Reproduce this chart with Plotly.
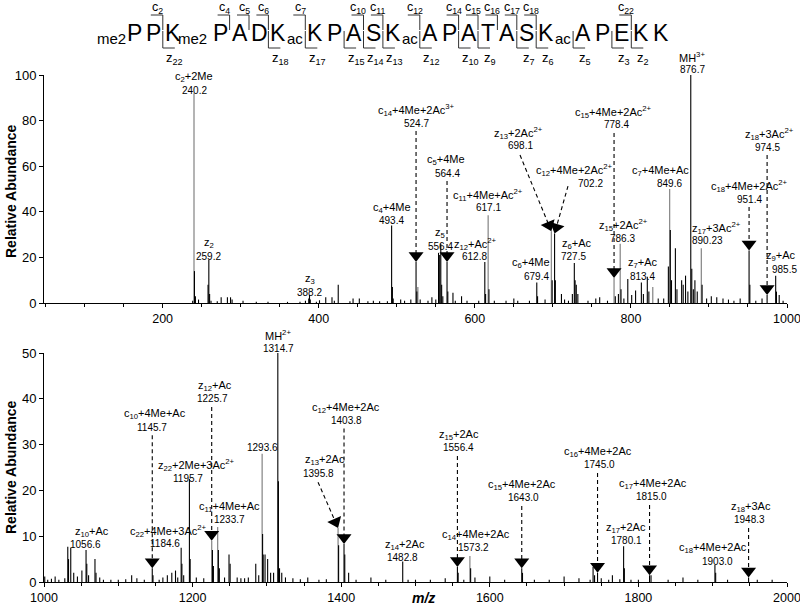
import math
import plotly.graph_objects as go

# ---------------------------------------------------------------- data
# top spectrum (m/z 50-1000), black sticks
TOP_BLACK_MZ = [238.5, 240.8, 242.0, 246.0, 258.2, 259.2, 260.2, 262.0, 270.0, 275.0, 283.0, 287.0,
                289.0, 303.0, 320.0, 335.0, 360.0, 376.0, 383.0, 387.2, 388.2, 389.2, 397.0, 401.0,
                409.0, 417.0, 420.0, 425.0, 440.0, 444.0, 452.0, 463.0, 470.0, 478.0, 488.0, 493.4,
                494.4, 495.4, 505.0, 510.0, 518.0, 524.7, 525.7, 530.0, 540.0, 545.0, 550.0, 553.5,
                555.0, 556.4, 557.5, 559.0, 564.4, 565.4, 572.0, 575.0, 583.0, 590.0, 605.0, 612.8,
                613.8, 618.1, 625.0, 640.0, 650.0, 655.0, 670.0, 679.4, 680.4, 690.0, 699.1, 702.2,
                703.2, 711.0, 715.0, 720.0, 725.0, 727.5, 728.5, 730.0, 732.0, 745.0, 755.0, 760.0,
                770.0, 780.0, 784.0, 787.3, 791.0, 796.0, 801.0, 806.0, 813.4, 816.0, 821.0, 823.0,
                835.0, 842.0, 848.0, 850.5, 852.0, 857.0, 859.0, 865.0, 867.0, 870.0, 873.0, 876.7,
                878.0, 880.0, 882.0, 885.0, 891.2, 897.0, 903.0, 910.0, 918.0, 925.0, 932.0, 940.0,
                951.4, 952.4, 960.0, 968.0, 974.5, 985.5, 986.5, 990.0, 995.0]
TOP_BLACK_INT = [1.0, 14.0, 3.0, 1.5, 8.0, 19.0, 4.0, 1.0, 0.8, 2.5, 2.5, 2.5,
                 1.5, 1.0, 0.5, 0.5, 0.5, 0.5, 1.0, 2.0, 3.5, 1.5, 0.6, 1.2,
                 2.5, 2.5, 1.0, 8.0, 0.8, 2.0, 2.0, 0.8, 1.0, 0.8, 0.8, 34.0,
                 7.0, 2.0, 1.5, 1.0, 1.5, 18.0, 5.0, 1.5, 1.0, 2.5, 1.5, 22.0,
                 21.0, 26.0, 8.0, 3.0, 18.0, 5.0, 4.5, 1.0, 3.0, 1.0, 1.0, 18.0,
                 4.0, 6.0, 1.0, 1.0, 2.0, 1.0, 1.0, 9.0, 3.0, 1.5, 10.0, 30.5,
                 10.0, 4.0, 1.5, 1.0, 4.0, 17.5, 10.0, 8.0, 4.0, 1.0, 2.0, 2.5,
                 1.0, 3.0, 4.0, 6.0, 2.0, 10.5, 3.5, 5.5, 9.0, 4.0, 11.5, 5.0,
                 2.0, 2.0, 16.0, 32.0, 10.0, 24.0, 6.0, 10.0, 8.0, 12.0, 5.0, 100.0,
                 15.0, 6.0, 10.0, 5.0, 8.0, 2.0, 3.0, 2.5, 2.0, 1.5, 1.0, 2.0,
                 23.0, 8.0, 1.0, 2.0, 3.5, 12.0, 5.0, 3.5, 1.0]
# top spectrum, grey sticks
TOP_GRAY_MZ = [240.2, 527.0, 617.1, 698.1, 778.4, 786.3, 828.0, 849.6, 890.23]
TOP_GRAY_INT = [92.0, 7.0, 38.5, 31.5, 11.0, 26.0, 7.0, 50.0, 24.0]

# bottom spectrum (m/z 1000-2000), black sticks
BOT_BLACK_MZ = [1001, 1005, 1010, 1015, 1020, 1028, 1032, 1033, 1036, 1040, 1045, 1051,
                1056.6, 1057.6, 1060, 1068.6, 1070, 1075, 1080, 1090, 1100, 1110, 1118, 1125,
                1135, 1145.7, 1146.7, 1155, 1160, 1166, 1172, 1177, 1180, 1184.6, 1185.6, 1188,
                1195.7, 1196.7, 1205, 1215, 1226.7, 1228, 1234.7, 1236, 1243, 1249, 1250.5, 1260,
                1265, 1270, 1275, 1285, 1289, 1294.2, 1295, 1297.5, 1301, 1305, 1309, 1314.7,
                1315.5, 1317, 1320, 1325, 1335, 1345, 1355, 1370, 1380, 1396.5, 1403.8, 1404.8,
                1410, 1420, 1440, 1460, 1482.8, 1490, 1500, 1520, 1540, 1556.4, 1557.4, 1565,
                1574.2, 1580, 1600, 1620, 1643.0, 1644, 1660, 1680, 1700, 1720, 1735, 1739,
                1741, 1745.0, 1750, 1760, 1765, 1775, 1780.1, 1781.1, 1790, 1800, 1815.0, 1817,
                1840, 1860, 1880, 1903.0, 1904, 1920, 1948.3, 1960, 1980]
BOT_BLACK_INT = [1.2, 0.5, 0.7, 1.2, 0.5, 0.8, 7.7, 5.0, 7.5, 2.0, 1.2, 2.5,
                 7.0, 4.0, 1.5, 5.0, 2.0, 1.0, 0.5, 0.5, 0.5, 0.6, 1.5, 0.8,
                 0.5, 3.0, 1.5, 0.5, 1.0, 1.5, 2.0, 2.5, 1.0, 7.5, 4.0, 1.5,
                 22.5, 5.0, 1.0, 0.8, 7.0, 3.5, 7.0, 3.0, 1.0, 6.0, 4.0, 1.0,
                 0.8, 0.8, 1.0, 4.0, 1.5, 10.5, 6.0, 6.0, 5.0, 2.0, 2.0, 50.0,
                 22.0, 3.0, 2.0, 1.0, 0.8, 0.6, 1.0, 0.5, 0.6, 8.0, 8.3, 6.0,
                 2.0, 0.5, 1.0, 0.5, 4.5, 0.5, 0.5, 0.5, 0.8, 3.3, 2.0, 0.5,
                 3.0, 1.0, 1.2, 0.5, 3.0, 2.0, 0.5, 0.5, 1.2, 0.8, 0.5, 3.3,
                 1.5, 2.0, 0.8, 0.5, 1.5, 0.6, 7.8, 3.0, 0.5, 0.5, 1.5, 1.5,
                 0.5, 1.0, 0.5, 3.7, 2.0, 0.5, 1.0, 0.5, 0.5]
BOT_GRAY_MZ = [1225.7, 1233.7, 1293.6, 1395.8, 1573.2]
BOT_GRAY_INT = [9.0, 12.0, 28.0, 11.8, 5.7]

# peak annotations
TOP_ION_NAMES = ["c<sub>2</sub>+2Me", "z<sub>2</sub>", "z<sub>3</sub>", "c<sub>4</sub>+4Me",
                 "c<sub>14</sub>+4Me+2Ac<sup>3+</sup>", "z<sub>5</sub>", "c<sub>5</sub>+4Me",
                 "z<sub>12</sub>+Ac<sup>2+</sup>", "c<sub>11</sub>+4Me+Ac<sup>2+</sup>", "c<sub>6</sub>+4Me",
                 "z<sub>13</sub>+2Ac<sup>2+</sup>", "c<sub>12</sub>+4Me+2Ac<sup>2+</sup>", "z<sub>6</sub>+Ac",
                 "c<sub>15</sub>+4Me+2Ac<sup>2+</sup>", "z<sub>15</sub>+2Ac<sup>2+</sup>", "z<sub>7</sub>+Ac",
                 "c<sub>7</sub>+4Me+Ac", "MH<sup>3+</sup>", "z<sub>17</sub>+3Ac<sup>2+</sup>",
                 "c<sub>18</sub>+4Me+2Ac<sup>2+</sup>", "z<sub>18</sub>+3Ac<sup>2+</sup>", "z<sub>9</sub>+Ac"]
TOP_ION_MZ = ["240.2", "259.2", "388.2", "493.4", "524.7", "556.4", "564.4", "612.8", "617.1",
              "679.4", "698.1", "702.2", "727.5", "778.4", "786.3", "813.4", "849.6", "876.7",
              "890.23", "951.4", "974.5", "985.5"]
BOT_ION_NAMES = ["z<sub>10</sub>+Ac", "c<sub>10</sub>+4Me+Ac", "c<sub>22</sub>+4Me+3Ac<sup>2+</sup>",
                 "z<sub>22</sub>+2Me+3Ac<sup>2+</sup>", "z<sub>12</sub>+Ac", "c<sub>11</sub>+4Me+Ac", "",
                 "MH<sup>2+</sup>", "z<sub>13</sub>+2Ac", "c<sub>12</sub>+4Me+2Ac", "z<sub>14</sub>+2Ac",
                 "z<sub>15</sub>+2Ac", "c<sub>14</sub>+4Me+2Ac", "c<sub>15</sub>+4Me+2Ac",
                 "c<sub>16</sub>+4Me+2Ac", "z<sub>17</sub>+2Ac", "c<sub>17</sub>+4Me+2Ac",
                 "c<sub>18</sub>+4Me+2Ac", "z<sub>18</sub>+3Ac"]
BOT_ION_MZ = ["1056.6", "1145.7", "1184.6", "1195.7", "1225.7", "1233.7", "1293.6", "1314.7",
              "1395.8", "1403.8", "1482.8", "1556.4", "1573.2", "1643.0", "1745.0", "1780.1",
              "1815.0", "1903.0", "1948.3"]

# peptide sequence header
RESIDUES = ["P", "P", "K", "P", "A", "D", "K", "K", "P", "A", "S", "K",
            "A", "P", "A", "T", "A", "S", "K", "A", "P", "E", "K", "K"]
N_TERM_MOD = "me2"
SIDE_MODS = {2: "me2", 6: "ac", 11: "ac", 18: "ac"}
C_IONS = [2, 4, 5, 6, 7, 10, 11, 12, 14, 15, 16, 17, 18, 22]
Z_IONS = [22, 18, 17, 15, 14, 13, 12, 10, 9, 7, 6, 5, 3, 2]

# ---------------------------------------------------------------- layout (placement only)
W, H = 800, 607
ML, MR, MT, MB = 44, 13, 75, 25
PW, PH = W - ML - MR, H - MT - MB
TOP_XR, TOP_YR = [48, 1000], [0, 100]
BOT_XR, BOT_YR = [1000, 2000], [0, 50]
TOP_DOM = [(H - MB - 303) / PH, 1.0]
BOT_DOM = [0.0, (H - MB - 353) / PH]
FONT = "Liberation Sans, Arial, Helvetica, sans-serif"

# label placement in data units: (name x, value x, name y)
TOP_PLACE = [(240.2, 240.2, 99.1), (259.2, 259.2, 26.3), (388.2, 388.2, 10.5), (493.4, 493.4, 41.7),
             (524.7, 524.7, 84.6), (555.8, 555.6, 30.7), (562.6, 564.4, 62.7), (601.5, 599, 25.9),
             (617.1, 617.1, 47.4), (672, 679.4, 17.5), (656.6, 658, 74.6), (727.6, 748, 58.3),
             (731, 727, 25.9), (778, 781, 83.8), (791, 789, 34.2), (815, 815, 17.5),
             (838.4, 849.6, 57.9), (878, 879, 107.9), (910, 898, 32.9), (952, 951.4, 51.3),
             (977, 974.5, 74.1), (992, 997, 20.6)]
BOT_PLACE = [(1064.6, 1056.5, 11.0), (1150, 1146, 36.6), (1168, 1163, 11.2), (1204.6, 1194, 25.5),
             (1230, 1226.8, 42.8), (1250, 1249, 16.4), (1294, 1294, 32.3), (1314.3, 1315, 53.9),
             (1378, 1370, 26.6), (1406.5, 1407, 38.1), (1486, 1482, 8.1), (1558.5, 1557.6, 32.1),
             (1581, 1578.7, 10.3), (1644, 1646, 21.2), (1746, 1748, 28.4), (1783, 1784.6, 11.8),
             (1819.7, 1818, 21.4), (1900, 1906, 7.4), (1951.6, 1950, 16.4)]
# arrows: label index -> None (vertical, under label) or start point (data units)
TOP_ARROWS = {4: None, 6: None, 10: (657.9, 64.9), 11: (719.4, 51.3), 13: None, 19: None, 20: None}
BOT_ARROWS = {1: None, 4: None, 8: (1368.8, 21.8), 9: None, 11: None, 13: None, 14: None,
              16: None, 18: None}


def panel_geom(panel):
    return (TOP_XR, TOP_YR, TOP_DOM) if panel == "top" else (BOT_XR, BOT_YR, BOT_DOM)


def panel_px(panel):
    xr, yr, dom = panel_geom(panel)
    sx = PW / (xr[1] - xr[0])
    sy = PH * (dom[1] - dom[0]) / (yr[1] - yr[0])
    return sx, sy


def to_paper(panel, x, y):
    xr, yr, dom = panel_geom(panel)
    px_ = (x - xr[0]) / (xr[1] - xr[0])
    py_ = dom[0] + (y - yr[0]) / (yr[1] - yr[0]) * (dom[1] - dom[0])
    return px_, py_


def sticks(mzs, ints):
    xs, ys = [], []
    for m, i in zip(mzs, ints):
        xs += [m, m, None]
        ys += [0, i, None]
    return xs, ys


def peak_height(mz, *lists):
    best = 0.0
    for mzs, ints in lists:
        for m, i in zip(mzs, ints):
            if abs(m - mz) < 0.6:
                best = max(best, i)
    return best


fig = go.Figure()
annotations = []
shapes = []

panels = [
    ("top", "x", "y", TOP_BLACK_MZ, TOP_BLACK_INT, TOP_GRAY_MZ, TOP_GRAY_INT,
     TOP_ION_NAMES, TOP_ION_MZ, TOP_PLACE, TOP_ARROWS),
    ("bot", "x2", "y2", BOT_BLACK_MZ, BOT_BLACK_INT, BOT_GRAY_MZ, BOT_GRAY_INT,
     BOT_ION_NAMES, BOT_ION_MZ, BOT_PLACE, BOT_ARROWS),
]

for (pn, xa, ya, bmz, bint, gmz, gint, names, mztxt, place, arrows) in panels:
    sx, sy = panel_px(pn)
    gx, gy = sticks(gmz, gint)
    fig.add_trace(go.Scatter(x=gx, y=gy, mode="lines", xaxis=xa, yaxis=ya,
                             line=dict(color="#8c8c8c", width=1.3), showlegend=False,
                             hoverinfo="skip"))
    bx, by = sticks(bmz, bint)
    fig.add_trace(go.Scatter(x=bx, y=by, mode="lines", xaxis=xa, yaxis=ya,
                             line=dict(color="black", width=1.1), showlegend=False,
                             hoverinfo="skip"))
    for k, (nm, val) in enumerate(zip(names, mztxt)):
        nx, vx, ny = place[k]
        pnx, pny = to_paper(pn, nx, ny)
        pvx, _ = to_paper(pn, vx, ny)
        if nm:
            annotations.append(dict(x=pnx, y=pny, xref="paper", yref="paper", text=nm,
                                    showarrow=False, xanchor="center", yanchor="middle",
                                    font=dict(family=FONT, size=11, color="black")))
        annotations.append(dict(x=pvx, y=pny, xref="paper", yref="paper", text=val,
                                showarrow=False, xanchor="center", yanchor="middle", yshift=-13,
                                font=dict(family=FONT, size=10, color="black")))
    # dashed arrows + triangle heads
    ax_l, ay_l, tx, ty, tang = [], [], [], [], []
    for k, start in arrows.items():
        pmz = float(mztxt[k])
        ph = peak_height(pmz, (bmz, bint), (gmz, gint))
        if start is None:
            x0, y0 = pmz, place[k][2] - 21 / sy
        else:
            x0, y0 = start
        dxp = (pmz - x0) * sx
        dyp = (y0 - ph) * sy
        L = math.hypot(dxp, dyp)
        ux, uy = dxp / L, dyp / L
        cx = pmz - ux * 6.5 / sx
        cy = ph + uy * 6.5 / sy
        ax_l += [x0, cx, None]
        ay_l += [y0, cy, None]
        tx.append(cx)
        ty.append(cy)
        tang.append(-math.degrees(math.atan2(dxp, dyp)))
    fig.add_trace(go.Scatter(x=ax_l, y=ay_l, mode="lines", xaxis=xa, yaxis=ya,
                             line=dict(color="black", width=1.1, dash="4px,3px"),
                             showlegend=False, hoverinfo="skip"))
    fig.add_trace(go.Scatter(x=tx, y=ty, mode="markers", xaxis=xa, yaxis=ya,
                             marker=dict(symbol="triangle-down", size=13, color="black",
                                         angle=tang, line=dict(width=0)),
                             showlegend=False, hoverinfo="skip", cliponaxis=False))


# ---------------------------------------------------------------- sequence header
def hx(px):
    return (px - ML) / PW


def hy(py):
    return (H - MB - py) / PH


STEP, START = 19.4, 134.0
MOD_EXTRA = {"me2": 28.0, "ac": 17.5}
MOD_OFF = {"me2": 20.0, "ac": 17.0}
centers = []
cur = START
for i, r in enumerate(RESIDUES):
    centers.append(cur)
    cur += STEP
    if i in SIDE_MODS:
        cur += MOD_EXTRA[SIDE_MODS[i]]

LETTER_Y = 33
for i, r in enumerate(RESIDUES):
    annotations.append(dict(x=hx(centers[i]), y=hy(LETTER_Y), xref="paper", yref="paper",
                            text=r, showarrow=False, xanchor="center", yanchor="middle",
                            font=dict(family=FONT, size=23, color="black")))
    if i in SIDE_MODS:
        m = SIDE_MODS[i]
        annotations.append(dict(x=hx(centers[i] + MOD_OFF[m]), y=hy(38), xref="paper",
                                yref="paper", text=m, showarrow=False, xanchor="center",
                                yanchor="middle", font=dict(family=FONT, size=15, color="black")))
annotations.append(dict(x=hx(centers[0] - 23), y=hy(38), xref="paper", yref="paper",
                        text=N_TERM_MOD, showarrow=False, xanchor="center", yanchor="middle",
                        font=dict(family=FONT, size=15, color="black")))

LC = dict(color="#333333", width=1)
for n in C_IONS:
    cut = centers[n] - 10
    shapes.append(dict(type="line", xref="paper", yref="paper", x0=hx(cut - 12), x1=hx(cut),
                       y0=hy(15), y1=hy(15), line=LC))
    shapes.append(dict(type="line", xref="paper", yref="paper", x0=hx(cut), x1=hx(cut),
                       y0=hy(15), y1=hy(30), line=LC))
    annotations.append(dict(x=hx(cut - 5), y=hy(8), xref="paper", yref="paper",
                            text="c<sub>%d</sub>" % n, showarrow=False, xanchor="center",
                            yanchor="middle", font=dict(family=FONT, size=12.5, color="black")))
for n in Z_IONS:
    cut = centers[len(RESIDUES) - n] - 10
    shapes.append(dict(type="line", xref="paper", yref="paper", x0=hx(cut), x1=hx(cut),
                       y0=hy(31), y1=hy(48), line=LC))
    shapes.append(dict(type="line", xref="paper", yref="paper", x0=hx(cut), x1=hx(cut + 12),
                       y0=hy(48), y1=hy(48), line=LC))
    annotations.append(dict(x=hx(cut + 12), y=hy(58), xref="paper", yref="paper",
                            text="z<sub>%d</sub>" % n, showarrow=False, xanchor="center",
                            yanchor="middle", font=dict(family=FONT, size=13, color="black")))

# axis titles
for cy in (191, 467):
    annotations.append(dict(x=hx(11), y=hy(cy), xref="paper", yref="paper",
                            text="<b>Relative Abundance</b>", textangle=-90, showarrow=False,
                            xanchor="center", yanchor="middle",
                            font=dict(family=FONT, size=14, color="black")))
annotations.append(dict(x=hx(423), y=hy(598), xref="paper", yref="paper",
                        text="<b><i>m/z</i></b>", showarrow=False, xanchor="center",
                        yanchor="middle", font=dict(family=FONT, size=14, color="black")))

axis_common = dict(showline=True, linecolor="black", linewidth=1, ticks="outside", ticklen=4,
                   tickcolor="black", tickwidth=1, showgrid=False, zeroline=False,
                   fixedrange=True, automargin=False, ticklabeloverflow="allow")
minor = dict(dtick=50, ticks="outside", ticklen=3, tickcolor="black", tickwidth=1, showgrid=False)

fig.update_layout(
    width=W, height=H,
    margin=dict(l=ML, r=MR, t=MT, b=MB, pad=0, autoexpand=False),
    paper_bgcolor="white", plot_bgcolor="white",
    font=dict(family=FONT, color="black"),
    showlegend=False,
    xaxis=dict(range=TOP_XR, domain=[0, 1], anchor="y", dtick=200, tick0=0, minor=minor,
               tickfont=dict(size=12.5), **axis_common),
    yaxis=dict(range=TOP_YR, domain=TOP_DOM, anchor="x", dtick=20, tickfont=dict(size=13),
               **axis_common),
    xaxis2=dict(range=BOT_XR, domain=[0, 1], anchor="y2", dtick=200, tick0=0, minor=minor,
                tickfont=dict(size=12.5), **axis_common),
    yaxis2=dict(range=BOT_YR, domain=BOT_DOM, anchor="x2", dtick=10, tickfont=dict(size=13),
                **axis_common),
    annotations=annotations,
    shapes=shapes,
)

fig.write_html("out.html", config={"displayModeBar": False},
               post_script="document.body.style.margin='0';document.body.style.overflow='hidden';")
